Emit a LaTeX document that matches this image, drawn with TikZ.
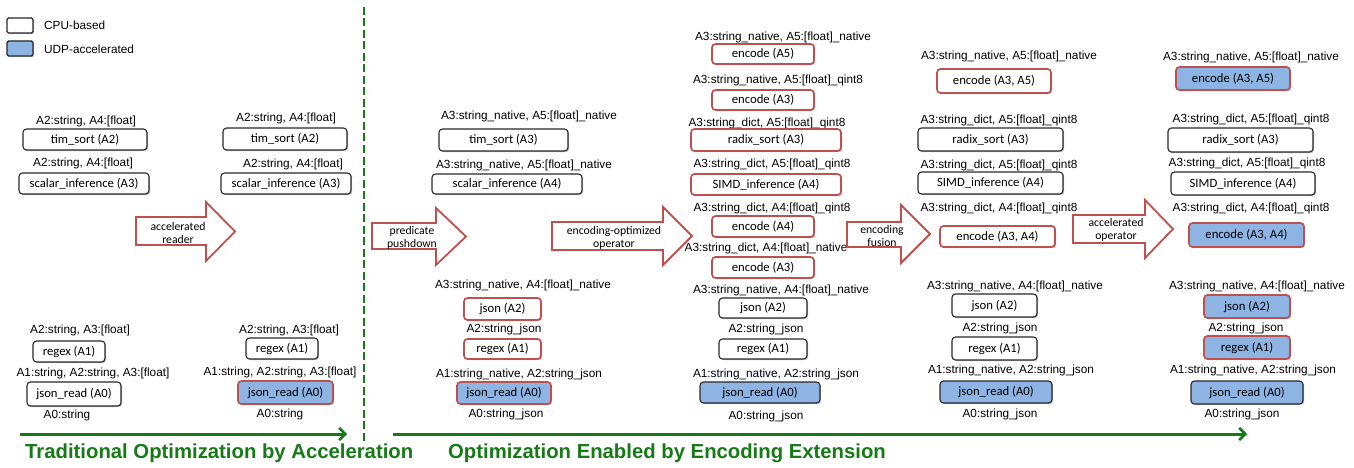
\documentclass[tikz,border=0pt]{standalone}
\usepackage{fontspec}
\setmainfont{Liberation Sans}
\newfontfamily\boxfont{Carlito}
\usetikzlibrary{arrows.meta,shadows}

\definecolor{opred}{RGB}{192,80,77}
\definecolor{udpblue}{RGB}{142,180,227}
\definecolor{optgreen}{RGB}{22,122,22}
\definecolor{edge}{RGB}{40,40,40}

% operator box from its corner coordinates
\newcommand\opbox[7]{%
  \pgfmathsetmacro\opW{#5-#3}\pgfmathsetmacro\opH{#6-#4}%
  \pgfmathsetmacro\opX{(#3+#5)/2}\pgfmathsetmacro\opY{(#4+#6)/2}%
  \node[#1, minimum width=\opW pt, minimum height=\opH pt] (#2) at (\opX,\opY) {#7};}

% block arrow: x0, head base x, tip x, body top, body bottom, head top, head bottom
\newcommand\blockarrow[7]{%
  \draw[fatarrow] (#1,#4) -- (#2,#4) -- (#2,#6) -- (#3,{(#6+#7)/2}) -- (#2,#7)
    -- (#2,#5) -- (#1,#5) -- cycle;}

\begin{document}
\begin{tikzpicture}[x=1pt,y=-1pt,
  lab/.style={font=\fontsize{11.8}{13}\selectfont, inner sep=0pt},
  legtext/.style={font=\fontsize{11.8}{13}\selectfont, inner sep=0pt, anchor=west},
  opbase/.style={rectangle, rounded corners=3.5pt, inner sep=0pt,
    font=\boxfont\fontsize{12.7}{14}\selectfont,
    drop shadow={shadow xshift=1.2pt, shadow yshift=-1.2pt, opacity=0.25, fill=black}},
  cpu/.style={opbase, draw=edge, line width=1.1pt, fill=white},
  cpured/.style={opbase, draw=opred, line width=1.7pt, fill=white},
  udp/.style={opbase, draw=edge, line width=1.1pt, fill=udpblue},
  udpred/.style={opbase, draw=opred, line width=1.7pt, fill=udpblue},
  fatarrow/.style={draw=opred, line width=1.8pt, fill=white, line join=miter},
  arrtext/.style={font=\boxfont\fontsize{11.7}{13}\selectfont, align=center, inner sep=0pt},
  flow/.style={draw=optgreen, line width=3pt,
    -{Straight Barb[length=6pt, width=12pt, line width=2.6pt]}},
  title/.style={font=\bfseries\fontsize{20.3}{22}\selectfont, text=optgreen, anchor=west, inner sep=0pt}
]
\useasboundingbox[fill=white] (0,0) rectangle (1354,468);

% legend
\node[cpu, minimum width=26pt, minimum height=15pt, rounded corners=1.5pt] (legcpu) at (20,25.5) {};
\node[udp, minimum width=26pt, minimum height=15pt, rounded corners=1.5pt] (legudp) at (20,48.5) {};
\node[legtext] (legcput) at (44,25) {CPU-based};
\node[legtext] (legudpt) at (44,49) {UDP-accelerated};

% divider between the two parts
\coordinate (divtop) at (364,7);
\coordinate (divbot) at (364,443);
\draw[optgreen, line width=2.7pt, dash pattern=on 8pt off 3.5pt] (divtop) -- (divbot);

% ---------- plan 1 ----------
\node[lab] (a1) at (86,121) {A2:string, A4:[float]};
\opbox{cpu}{a1box}{23}{129}{147}{150}{tim\_sort (A2)}
\node[lab] (a2) at (83,163) {A2:string, A4:[float]};
\opbox{cpu}{a2box}{19}{173}{149}{194}{scalar\_inference (A3)}
\node[lab] (a3) at (80,330) {A2:string, A3:[float]};
\opbox{cpu}{a3box}{33}{341}{105}{362}{regex (A1)}
\node[lab] (a4) at (93,373) {A1:string, A2:string, A3:[float]};
\opbox{cpu}{a4box}{27}{382}{121}{406}{json\_read (A0)}
\node[lab] (a5) at (67,415) {A0:string};

% ---------- plan 2 ----------
\node[lab] (b1) at (286,118) {A2:string, A4:[float]};
\opbox{cpu}{b1box}{223}{128}{347}{150}{tim\_sort (A2)}
\node[lab] (b2) at (293,164) {A2:string, A4:[float]};
\opbox{cpu}{b2box}{221}{173}{351}{194}{scalar\_inference (A3)}
\node[lab] (b3) at (289,330) {A2:string, A3:[float]};
\opbox{cpu}{b3box}{246}{338}{318}{359}{regex (A1)}
\node[lab] (b4) at (280,372) {A1:string, A2:string, A3:[float]};
\opbox{udpred}{b4box}{238}{381}{333}{404}{json\_read (A0)}
\node[lab] (b5) at (280,414) {A0:string};

% ---------- plan 3 ----------
\node[lab] (c1) at (529,116) {A3:string\_native, A5:[float]\_native};
\opbox{cpu}{c1box}{439}{129}{568}{151}{tim\_sort (A3)}
\node[lab] (c2) at (524,165) {A3:string\_native, A5:[float]\_native};
\opbox{cpu}{c2box}{432}{174}{582}{194}{scalar\_inference (A4)}
\node[lab] (c3) at (523,285) {A3:string\_native, A4:[float]\_native};
\opbox{cpured}{c3box}{464}{298}{541}{320}{json (A2)}
\node[lab] (c4) at (504,329) {A2:string\_json};
\opbox{cpured}{c4box}{464}{339}{541}{359}{regex (A1)}
\node[lab] (c5) at (519,374) {A1:string\_native, A2:string\_json};
\opbox{udpred}{c5box}{457}{382}{551}{404}{json\_read (A0)}
\node[lab] (c6) at (506,414) {A0:string\_json};

% ---------- plan 4 ----------
\node[lab] (d1) at (783,37) {A3:string\_native, A5:[float]\_native};
\opbox{cpured}{d1box}{712}{44}{814}{64}{encode (A5)}
\node[lab] (d2) at (778,80) {A3:string\_native, A5:[float]\_qint8};
\opbox{cpured}{d2box}{712}{90}{814}{110}{encode (A3)}
\node[lab] (d3) at (767,123) {A3:string\_dict, A5:[float]\_qint8};
\opbox{cpured}{d3box}{691}{129}{841}{151}{radix\_sort (A3)}
\node[lab] (d4) at (772,164) {A3:string\_dict, A5:[float]\_qint8};
\opbox{cpured}{d4box}{691}{174}{841}{195}{SIMD\_inference (A4)}
\node[lab] (d5) at (772,208) {A3:string\_dict, A4:[float]\_qint8};
\opbox{cpured}{d5box}{712}{216}{814}{237}{encode (A4)}
\node[lab] (d6) at (766,248) {A3:string\_dict, A4:[float]\_native};
\opbox{cpured}{d6box}{712}{257}{814}{278}{encode (A3)}
\node[lab] (d7) at (781,290) {A3:string\_native, A4:[float]\_native};
\opbox{cpu}{d7box}{719}{298}{807}{318}{json (A2)}
\node[lab] (d8) at (766,329) {A2:string\_json};
\opbox{cpu}{d8box}{719}{339}{807}{359}{regex (A1)}
\node[lab] (d9) at (776,374) {A1:string\_native, A2:string\_json};
\opbox{udp}{d9box}{700}{382}{820}{403}{json\_read (A0)}
\node[lab] (d10) at (766,416) {A0:string\_json};

% ---------- plan 5 ----------
\node[lab] (e1) at (1009,56) {A3:string\_native, A5:[float]\_native};
\opbox{cpured}{e1box}{937}{69}{1051}{93}{encode (A3, A5)}
\node[lab] (e2) at (999,120) {A3:string\_dict, A5:[float]\_qint8};
\opbox{cpu}{e2box}{918}{128}{1063}{151}{radix\_sort (A3)}
\node[lab] (e3) at (999,165) {A3:string\_dict, A5:[float]\_qint8};
\opbox{cpu}{e3box}{918}{172}{1063}{194}{SIMD\_inference (A4)}
\node[lab] (e4) at (999,208) {A3:string\_dict, A4:[float]\_qint8};
\opbox{cpured}{e4box}{940}{226}{1055}{247}{encode (A3, A4)}
\node[lab] (e5) at (1015,286) {A3:string\_native, A4:[float]\_native};
\opbox{cpu}{e5box}{952}{294}{1037}{317}{json (A2)}
\node[lab] (e6) at (1000,328) {A2:string\_json};
\opbox{cpu}{e6box}{952}{337}{1037}{360}{regex (A1)}
\node[lab] (e7) at (1011,370) {A1:string\_native, A2:string\_json};
\opbox{udp}{e7box}{940}{381}{1052}{403}{json\_read (A0)}
\node[lab] (e8) at (1000,414) {A0:string\_json};

% ---------- plan 6 ----------
\node[lab] (f1) at (1251,57) {A3:string\_native, A5:[float]\_native};
\opbox{udpred}{f1box}{1176}{67}{1290}{90}{encode (A3, A5)}
\node[lab] (f2) at (1251,119) {A3:string\_dict, A5:[float]\_qint8};
\opbox{cpu}{f2box}{1168}{128}{1313}{152}{radix\_sort (A3)}
\node[lab] (f3) at (1247,163) {A3:string\_dict, A5:[float]\_qint8};
\opbox{cpu}{f3box}{1171}{172}{1315}{195}{SIMD\_inference (A4)}
\node[lab] (f4) at (1251,208) {A3:string\_dict, A4:[float]\_qint8};
\opbox{udpred}{f4box}{1189}{223}{1304}{247}{encode (A3, A4)}
\node[lab] (f5) at (1257,286) {A3:string\_native, A4:[float]\_native};
\opbox{udpred}{f5box}{1204}{295}{1290}{318}{json (A2)}
\node[lab] (f6) at (1246,328) {A2:string\_json};
\opbox{udpred}{f6box}{1204}{336}{1290}{359}{regex (A1)}
\node[lab] (f7) at (1253,370) {A1:string\_native, A2:string\_json};
\opbox{udp}{f7box}{1191}{381}{1303}{404}{json\_read (A0)}
\node[lab] (f8) at (1242,414) {A0:string\_json};

% ---------- rewrite steps ----------
\blockarrow{136}{206}{235}{217}{245}{202}{261}
\node[arrtext] (s1) at (178,232.5) {accelerated\\reader};
\blockarrow{372}{436}{466}{223}{249}{208}{265}
\node[arrtext] (s2) at (412,237.5) {predicate\\pushdown};
\blockarrow{552}{663}{692}{222}{250}{207}{265}
\node[arrtext] (s3) at (614,237.5) {encoding-optimized\\operator};
\blockarrow{847}{901}{930}{222}{247}{205}{263}
\node[arrtext] (s4) at (882,235.5) {encoding\\fusion};
\blockarrow{1073}{1145}{1173}{215}{243}{200}{258}
\node[arrtext] (s5) at (1116,229.5) {accelerated\\operator};

% ---------- timelines ----------
\coordinate (t1a) at (20,434);
\coordinate (t1b) at (347,434);
\coordinate (t2a) at (393,434);
\coordinate (t2b) at (1247,434);
\draw[flow] (t1a) -- (t1b);
\draw[flow] (t2a) -- (t2b);
\node[title] (title1) at (25,453) {Traditional Optimization by Acceleration};
\node[title] (title2) at (448,453) {Optimization Enabled by Encoding Extension};
\end{tikzpicture}
\end{document}
